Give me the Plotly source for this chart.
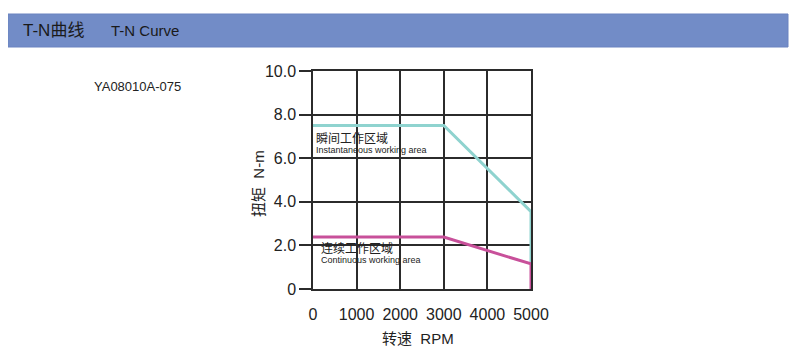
import plotly.graph_objects as go

# Data
inst_rpm = [0, 3000, 5000, 5000]
inst_torque = [7.5, 7.5, 3.55, 1.15]
cont_rpm = [0, 3000, 5000, 5000]
cont_torque = [2.38, 2.38, 1.15, 0]
x_ticks = [0, 1000, 2000, 3000, 4000, 5000]
x_labels = ["0", "1000", "2000", "3000", "4000", "5000"]
y_ticks = [0, 2, 4, 6, 8, 10]
y_labels = ["0", "2.0", "4.0", "6.0", "8.0", "10.0"]

W, H = 800, 363
OFF = 8  # page body margin offset
def px(x):
    return (x - OFF) / W
def py(y):
    return 1 - (y - OFF) / H

fig = go.Figure()
fig.add_trace(go.Scatter(x=inst_rpm, y=inst_torque, mode="lines",
                         line=dict(color="#8fd3cf", width=3), cliponaxis=False,
                         showlegend=False, hoverinfo="skip"))
fig.add_trace(go.Scatter(x=cont_rpm, y=cont_torque, mode="lines",
                         line=dict(color="#c8509a", width=3), cliponaxis=False,
                         showlegend=False, hoverinfo="skip"))

font = "Liberation Sans, Noto Sans CJK SC, sans-serif"
grid = "#2b2b2b"

fig.update_layout(
    width=W, height=H,
    margin=dict(l=0, r=0, t=0, b=0, autoexpand=False),
    paper_bgcolor="white", plot_bgcolor="white",
    font=dict(family=font, color="#222"),
    xaxis=dict(domain=[px(313), px(531)], range=[0, 5000], tickvals=x_ticks, ticktext=x_labels,
               showgrid=True, gridcolor=grid, gridwidth=1.5, zeroline=False,
               showline=True, linecolor=grid, linewidth=1.5, mirror=True,
               ticks="outside", ticklen=10, tickcolor="rgba(0,0,0,0)",
               tickfont=dict(size=16, family=font, color="#222")),
    yaxis=dict(domain=[py(289), py(71)], range=[0, 10], tickvals=y_ticks, ticktext=y_labels,
               showgrid=True, gridcolor=grid, gridwidth=1.5, zeroline=False,
               showline=True, linecolor=grid, linewidth=1.5, mirror=True,
               ticks="outside", ticklen=12, tickcolor=grid, tickwidth=1.5,
               tickfont=dict(size=16, family=font, color="#222")),
    shapes=[dict(type="rect", xref="paper", yref="paper", x0=px(8), x1=px(788), y0=py(47), y1=py(14),
                 fillcolor="#728cc7", line=dict(color="#6a83c0", width=1), layer="below")],
)

annotations = [
    dict(text="T-N曲线", x=px(21), y=py(31), xanchor="left", yanchor="middle",
         font=dict(size=17, color="#1a1a1a")),
    dict(text="T-N Curve", x=px(109), y=py(31), xanchor="left", yanchor="middle",
         font=dict(size=15, color="#1a1a1a")),
    dict(text="YA08010A-075", x=px(92), y=py(87), xanchor="left", yanchor="middle",
         font=dict(size=13, color="#222")),
    dict(text="瞬间工作区域", x=px(314), y=py(139), xanchor="left", yanchor="middle",
         font=dict(size=12, color="#222")),
    dict(text="Instantaneous working area", x=px(314), y=py(150), xanchor="left", yanchor="middle",
         font=dict(size=9, color="#222")),
    dict(text="连续工作区域", x=px(319), y=py(248), xanchor="left", yanchor="middle",
         font=dict(size=12, color="#222")),
    dict(text="Continuous working area", x=px(319), y=py(260), xanchor="left", yanchor="middle",
         font=dict(size=9, color="#222")),
    dict(text="转速  RPM", x=px(418), y=py(338), xanchor="center", yanchor="middle",
         font=dict(size=15, color="#222")),
    dict(text="扭矩  N-m", x=px(258), y=py(184), xanchor="center", yanchor="middle", textangle=-90,
         font=dict(size=15, color="#222")),
]
for a in annotations:
    a.update(xref="paper", yref="paper", showarrow=False)
fig.update_layout(annotations=annotations)

fig.write_html("out.html")
